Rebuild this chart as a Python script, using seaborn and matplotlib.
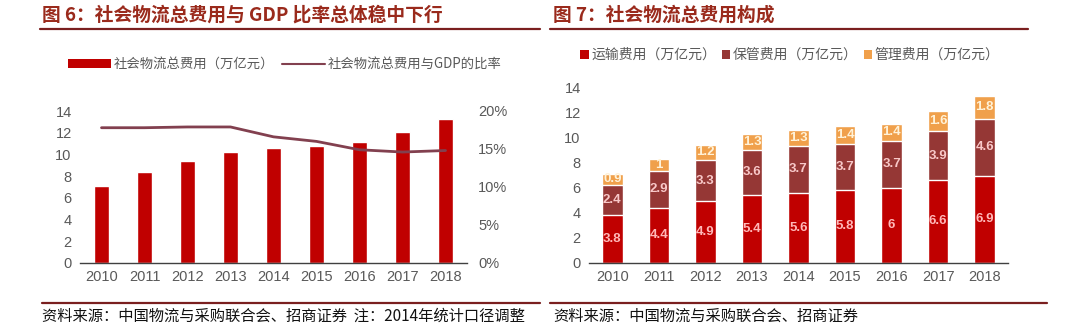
import numpy as np
import pandas as pd
import matplotlib
matplotlib.use("Agg")
import matplotlib.pyplot as plt
from matplotlib.patches import Patch
from matplotlib.lines import Line2D
import seaborn as sns

sns.set_theme(style="white")
plt.rcParams['font.family'] = ['Noto Sans CJK SC', 'DejaVu Sans']
plt.rcParams['axes.unicode_minus'] = False

# ---- data ----
years = ["2010", "2011", "2012", "2013", "2014", "2015", "2016", "2017", "2018"]
total_cost = [7.1, 8.4, 9.4, 10.2, 10.6, 10.8, 11.1, 12.1, 13.3]
gdp_ratio = [17.8, 17.8, 17.9, 17.9, 16.6, 16.0, 14.9, 14.6, 14.8]
transport = [3.8, 4.4, 4.9, 5.4, 5.6, 5.8, 6.0, 6.6, 6.9]
storage = [2.4, 2.9, 3.3, 3.6, 3.7, 3.7, 3.7, 3.9, 4.6]
management = [0.9, 1.0, 1.2, 1.3, 1.3, 1.4, 1.4, 1.6, 1.8]
transport_labels = ["3.8", "4.4", "4.9", "5.4", "5.6", "5.8", "6", "6.6", "6.9"]
storage_labels = ["2.4", "2.9", "3.3", "3.6", "3.7", "3.7", "3.7", "3.9", "4.6"]
management_labels = ["0.9", "1", "1.2", "1.3", "1.3", "1.4", "1.4", "1.6", "1.8"]

left_title = "图 6：社会物流总费用与 GDP 比率总体稳中下行"
right_title = "图 7：社会物流总费用构成"
left_source = "资料来源：中国物流与采购联合会、招商证券  注：2014年统计口径调整"
right_source = "资料来源：中国物流与采购联合会、招商证券"
left_legend = ["社会物流总费用（万亿元）", "社会物流总费用与GDP的比率"]
right_legend = ["运输费用（万亿元）", "保管费用（万亿元）", "管理费用（万亿元）"]

RED = "#C00000"
BROWN = "#953735"
ORANGE = "#F0A04B"
LINE = "#82404F"
TITLE = "#9A2A1C"
RULE = "#7A1F1F"
TICK = "#595959"
CJK = ['Noto Sans CJK SC', 'DejaVu Sans']
NUM = ['Liberation Sans', 'DejaVu Sans']

fig = plt.figure(figsize=(10.8, 3.3), dpi=100)
fig.patch.set_facecolor("white")

df1 = pd.DataFrame({"year": years, "cost": total_cost, "ratio": np.array(gdp_ratio) / 100})

# ---- left chart ----
ax1 = fig.add_axes([80 / 1080, 1 - 263 / 330, 387 / 1080, 152 / 330])
sns.barplot(data=df1, x="year", y="cost", color=RED, width=0.36, saturation=1, ax=ax1)
ax1.set_ylim(0, 14)
ax1.set_yticks(range(0, 15, 2))
ax1.set_xlim(-0.5, len(years) - 0.5)
ax2 = ax1.twinx()
sns.lineplot(x=np.arange(len(years)), y=df1["ratio"], color=LINE, lw=2, ax=ax2)
ax2.set_ylim(0, 0.2)
ax2.set_yticks([0, 0.05, 0.1, 0.15, 0.2])
ax2.set_yticklabels([f"{int(round(v * 100))}%" for v in ax2.get_yticks()])

# ---- right chart ----
df2 = pd.DataFrame({"year": years, "t": transport, "s": storage, "m": management})
df2["ts"] = df2["t"] + df2["s"]
df2["tsm"] = df2["ts"] + df2["m"]
ax3 = fig.add_axes([589 / 1080, 1 - 262.7 / 330, 419 / 1080, 175.4 / 330])
sns.barplot(data=df2, x="year", y="tsm", color=ORANGE, width=0.44, saturation=1, ax=ax3)
sns.barplot(data=df2, x="year", y="ts", color=BROWN, width=0.44, saturation=1, ax=ax3)
sns.barplot(data=df2, x="year", y="t", color=RED, width=0.44, saturation=1, ax=ax3)
ax3.set_ylim(0, 14)
ax3.set_yticks(range(0, 15, 2))
ax3.set_xlim(-0.5, len(years) - 0.5)
for i in range(len(years)):
    ax3.text(i, df2["t"][i] / 2, transport_labels[i], ha="center", va="center",
             color="#FFB8B8", fontsize=9.5, fontweight="bold", family=NUM)
    ax3.text(i, df2["t"][i] + df2["s"][i] / 2, storage_labels[i], ha="center", va="center",
             color="#F8C8C8", fontsize=9.5, fontweight="bold", family=NUM)
    ax3.text(i, df2["ts"][i] + df2["m"][i] / 2, management_labels[i], ha="center", va="center",
             color="#FFF2D8", fontsize=9.5, fontweight="bold", family=NUM)

# ---- axis styling ----
for ax in (ax1, ax2, ax3):
    ax.set_xlabel("")
    ax.set_ylabel("")
    for s in ("top", "left", "right"):
        ax.spines[s].set_visible(False)
    ax.spines["bottom"].set_visible(ax is not ax2)
    ax.spines["bottom"].set_color("#404040")
    ax.spines["bottom"].set_linewidth(1)
    ax.grid(False)
    ax.tick_params(axis="y", length=0, labelsize=10.5, labelcolor=TICK, pad=6)
    for lab in ax.get_yticklabels() + ax.get_xticklabels():
        lab.set_fontfamily(NUM)
for ax in (ax1, ax3):
    ax.tick_params(axis="x", length=0, labelsize=10.5, labelcolor=TICK, pad=5)
    ax.set_xticks(np.arange(-0.5, len(years), 1), minor=True)
    ax.tick_params(axis="x", which="minor", direction="in", length=3, color="#404040", width=0.8)
ax2.tick_params(axis="y", pad=8)

# ---- legends ----
h1 = [Patch(facecolor=RED, edgecolor="none"), Line2D([0], [0], color=LINE, lw=1.5)]
fig.legend(h1, left_legend, loc="center", bbox_to_anchor=(285 / 1080, 1 - 64 / 330), ncol=2,
           frameon=False, labelcolor=TICK, handlelength=3.2, handleheight=0.6,
           handletextpad=0.2, columnspacing=0.6, prop={"family": CJK, "size": 9.6})
h2 = [Patch(facecolor=c, edgecolor="none") for c in (RED, BROWN, ORANGE)]
fig.legend(h2, right_legend, loc="center", bbox_to_anchor=(790 / 1080, 1 - 55 / 330), ncol=3,
           frameon=False, labelcolor=TICK, handlelength=0.6, handleheight=0.6,
           handletextpad=0.2, columnspacing=0.4, prop={"family": CJK, "size": 10})

# ---- titles, rules, sources ----
fig.text(42 / 1080, 1 - 15 / 330, left_title, ha="left", va="center", color=TITLE,
         fontsize=13.5, fontweight="bold", family=CJK)
fig.text(553 / 1080, 1 - 15 / 330, right_title, ha="left", va="center", color=TITLE,
         fontsize=13.5, fontweight="bold", family=CJK)
fig.add_artist(Line2D([40 / 1080, 540 / 1080], [1 - 29 / 330] * 2, color=RULE, lw=1.6))
fig.add_artist(Line2D([550 / 1080, 1028 / 1080], [1 - 29 / 330] * 2, color=RULE, lw=1.6))
fig.add_artist(Line2D([42 / 1080, 540 / 1080], [1 - 303 / 330] * 2, color=RULE, lw=1.6))
fig.add_artist(Line2D([550 / 1080, 1047 / 1080], [1 - 303 / 330] * 2, color=RULE, lw=1.6))
fig.text(42 / 1080, 1 - 316 / 330, left_source, ha="left", va="center", color="#111111",
         fontsize=11, family=CJK)
fig.text(553 / 1080, 1 - 316 / 330, right_source, ha="left", va="center", color="#111111",
         fontsize=11, family=CJK)

fig.savefig("out.png", dpi=100, facecolor="white")
